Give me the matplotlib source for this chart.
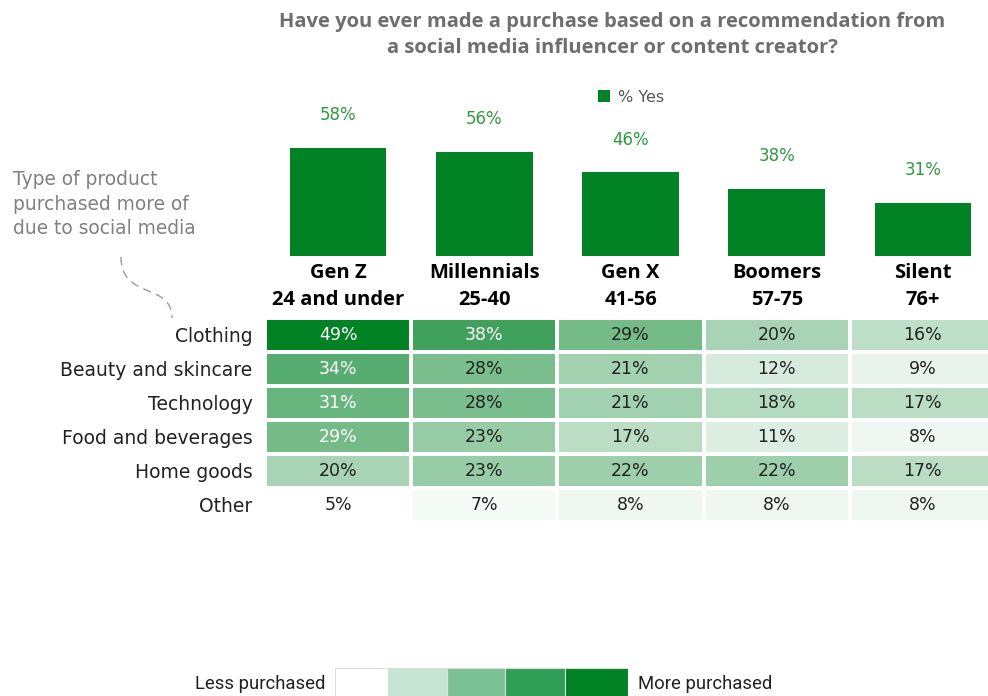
import matplotlib
matplotlib.use("Agg")
import matplotlib.pyplot as plt
import numpy as np
from matplotlib.colors import LinearSegmentedColormap, Normalize
from matplotlib.patches import Rectangle, PathPatch
from matplotlib.path import Path

# ---- data ----
generations = ["Gen Z", "Millennials", "Gen X", "Boomers", "Silent"]
age_ranges = ["24 and under", "25-40", "41-56", "57-75", "76+"]
pct_yes = [58, 56, 46, 38, 31]
products = ["Clothing", "Beauty and skincare", "Technology",
            "Food and beverages", "Home goods", "Other"]
clothing = [49, 38, 29, 20, 16]
beauty = [34, 28, 21, 12, 9]
technology = [31, 28, 21, 18, 17]
food = [29, 23, 17, 11, 8]
home = [20, 23, 22, 22, 17]
other = [5, 7, 8, 8, 8]
title = ("Have you ever made a purchase based on a recommendation from\n"
         "a social media influencer or content creator?")

matrix = np.array([clothing, beauty, technology, food, home, other])

W, H = 988, 696
fig = plt.figure(figsize=(W / 100, H / 100), dpi=100)

def box(l, t, r, b):
    return [l / W, 1 - b / H, (r - l) / W, (b - t) / H]

GREEN = "#008225"
cmap = LinearSegmentedColormap.from_list("g", ["#ffffff", GREEN])
norm = Normalize(vmin=5, vmax=49)

LBL_FONT = "DejaVu Sans"
HDR_FONT = "Open Sans"

# ---- title ----
fig.text(612 / W, 1 - 35 / H, title, ha="center", va="center", fontsize=14.5,
         fontweight="bold", color="#6e6e6e", family=HDR_FONT, linespacing=1.35)

# ---- bar chart ----
axb = fig.add_axes(box(265, 100, 996, 256))
x = np.arange(len(generations))
bars = axb.bar(x, pct_yes, width=0.66, color=GREEN, label="% Yes")
axb.bar_label(bars, labels=[f"{v}%" for v in pct_yes], padding=17,
              color="#2f9a3f", fontsize=12, family=LBL_FONT)
axb.set_xlim(-0.5, 4.5)
axb.set_ylim(5, 81.5)
axb.axis("off")
fig.legend(handles=[bars], labels=["% Yes"], loc="center",
           bbox_to_anchor=(631 / W, 1 - 97 / H), frameon=False,
           handlelength=0.7, handleheight=0.7, handletextpad=0.5,
           prop={"family": LBL_FONT, "size": 11.5}, labelcolor="#555555")

# ---- heatmap ----
axh = fig.add_axes(box(265, 318, 996, 522))
gx, gy = 0.014, 0.06
for i in range(matrix.shape[0]):
    for j in range(matrix.shape[1]):
        v = matrix[i, j]
        axh.add_patch(Rectangle((j - 0.5 + gx, i - 0.5 + gy), 1 - 2 * gx, 1 - 2 * gy,
                                facecolor=cmap(norm(v)), edgecolor="none"))
        light = v >= 30 or (v >= 29 and j == 0)
        axh.text(j, i, f"{v}%", ha="center", va="center", fontsize=12.5,
                 family=LBL_FONT, color="white" if light else "#222222")
axh.set_xlim(-0.5, 4.5)
axh.set_ylim(5.5, -0.5)
for s in axh.spines.values():
    s.set_visible(False)
axh.set_yticks(range(len(products)), products, family=LBL_FONT, fontsize=13.5,
               color="#222222")
axh.xaxis.tick_top()
axh.set_xticks(range(len(generations)),
               [f"{g}\n{a}" for g, a in zip(generations, age_ranges)],
               fontsize=14.5, fontweight="bold", family=HDR_FONT, linespacing=1.45)
axh.tick_params(axis="y", length=0, pad=9)
axh.tick_params(axis="x", length=0, pad=6)

# ---- annotation ----
fig.text(13 / W, 1 - 204 / H, "Type of product\npurchased more of\ndue to social media",
         ha="left", va="center", fontsize=13.4, family=LBL_FONT, color="#808080",
         linespacing=1.35)
verts = [(121, 257), (121, 300), (172, 282), (172, 318)]
verts = [(vx / W, 1 - vy / H) for vx, vy in verts]
path = Path(verts, [Path.MOVETO, Path.CURVE4, Path.CURVE4, Path.CURVE4])
fig.add_artist(PathPatch(path, transform=fig.transFigure, facecolor="none",
                         edgecolor="#999999", linestyle=(0, (6, 4)), linewidth=1.0))

# ---- bottom legend ----
axl = fig.add_axes(box(335, 668, 628, 700))
legend_colors = ["#ffffff", "#c6e5d3", "#7bc196", "#2e9e56", GREEN]
edges = [0, 53, 112, 170, 230, 293]
for k, c in enumerate(legend_colors):
    axl.add_patch(Rectangle((edges[k], 0), edges[k + 1] - edges[k], 1, facecolor=c,
                            edgecolor="#dddddd", linewidth=0.8))
axl.set_xlim(0, 293)
axl.set_ylim(0, 1)
axl.axis("off")
fig.text(325 / W, 1 - 684 / H, "Less purchased", ha="right", va="center",
         fontsize=13.3, family="Roboto", color="#222222")
fig.text(638 / W, 1 - 684 / H, "More purchased", ha="left", va="center",
         fontsize=13.3, family="Roboto", color="#222222")

fig.savefig("out.png", dpi=100)
